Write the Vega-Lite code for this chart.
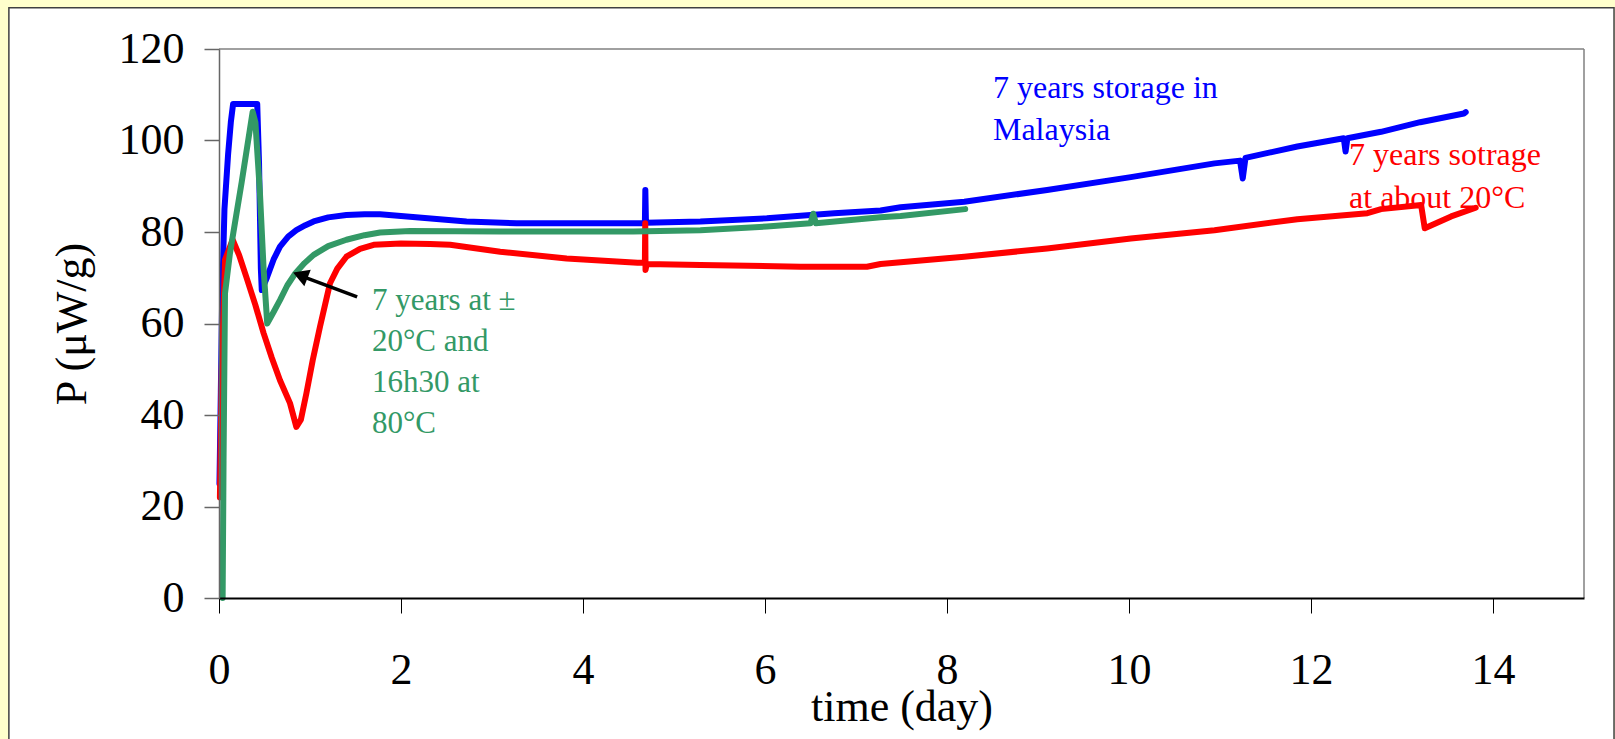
{
  "$schema": "https://vega.github.io/schema/vega-lite/v6.json",
  "width": 1365,
  "height": 549,
  "autosize": {"type": "none"},
  "padding": {"left": 219, "top": 49, "right": 31, "bottom": 141},
  "background": "#FFFFCC",
  "config": {
    "view": {"stroke": null},
    "font": "Liberation Serif",
    "axis": {"labelFont": "Liberation Serif", "titleFont": "Liberation Serif", "labelColor": "#000000", "titleColor": "#000000", "titleFontWeight": "normal", "grid": false}
  },
  "datasets": {
    "curves": [
      {"series": "Malaysia", "t": 0.005, "p": 25},
      {"series": "Malaysia", "t": 0.02, "p": 45},
      {"series": "Malaysia", "t": 0.035, "p": 66},
      {"series": "Malaysia", "t": 0.06, "p": 85},
      {"series": "Malaysia", "t": 0.1, "p": 97},
      {"series": "Malaysia", "t": 0.13, "p": 104},
      {"series": "Malaysia", "t": 0.155, "p": 108},
      {"series": "Malaysia", "t": 0.42, "p": 108},
      {"series": "Malaysia", "t": 0.44, "p": 95},
      {"series": "Malaysia", "t": 0.46, "p": 72},
      {"series": "Malaysia", "t": 0.47, "p": 67.3},
      {"series": "Malaysia", "t": 0.53, "p": 70.2},
      {"series": "Malaysia", "t": 0.6, "p": 74},
      {"series": "Malaysia", "t": 0.67, "p": 76.8},
      {"series": "Malaysia", "t": 0.76, "p": 79},
      {"series": "Malaysia", "t": 0.85, "p": 80.4},
      {"series": "Malaysia", "t": 0.95, "p": 81.5},
      {"series": "Malaysia", "t": 1.04, "p": 82.3},
      {"series": "Malaysia", "t": 1.2, "p": 83.2},
      {"series": "Malaysia", "t": 1.4, "p": 83.7},
      {"series": "Malaysia", "t": 1.6, "p": 83.9},
      {"series": "Malaysia", "t": 1.77, "p": 83.9},
      {"series": "Malaysia", "t": 2.0, "p": 83.5},
      {"series": "Malaysia", "t": 2.72, "p": 82.3},
      {"series": "Malaysia", "t": 3.27, "p": 81.9},
      {"series": "Malaysia", "t": 4.56, "p": 81.9},
      {"series": "Malaysia", "t": 4.68, "p": 81.9},
      {"series": "Malaysia", "t": 4.685, "p": 89.2},
      {"series": "Malaysia", "t": 4.692, "p": 82.0},
      {"series": "Malaysia", "t": 5.29, "p": 82.3},
      {"series": "Malaysia", "t": 6.02, "p": 83.0},
      {"series": "Malaysia", "t": 6.76, "p": 84.1},
      {"series": "Malaysia", "t": 7.27, "p": 84.7},
      {"series": "Malaysia", "t": 7.49, "p": 85.4},
      {"series": "Malaysia", "t": 8.19, "p": 86.6},
      {"series": "Malaysia", "t": 9.1, "p": 89.2},
      {"series": "Malaysia", "t": 10.02, "p": 92.0},
      {"series": "Malaysia", "t": 10.94, "p": 95.0},
      {"series": "Malaysia", "t": 11.22, "p": 95.6},
      {"series": "Malaysia", "t": 11.25, "p": 91.7},
      {"series": "Malaysia", "t": 11.28, "p": 96.2},
      {"series": "Malaysia", "t": 11.85, "p": 98.7},
      {"series": "Malaysia", "t": 12.36, "p": 100.5},
      {"series": "Malaysia", "t": 12.38, "p": 97.6},
      {"series": "Malaysia", "t": 12.4, "p": 100.5},
      {"series": "Malaysia", "t": 12.77, "p": 101.9},
      {"series": "Malaysia", "t": 13.2, "p": 104.0},
      {"series": "Malaysia", "t": 13.68, "p": 105.9},
      {"series": "Malaysia", "t": 13.7, "p": 106.2},
      {"series": "20C", "t": 0.01, "p": 22},
      {"series": "20C", "t": 0.03, "p": 49.8},
      {"series": "20C", "t": 0.066, "p": 73.9},
      {"series": "20C", "t": 0.15, "p": 78.3},
      {"series": "20C", "t": 0.22, "p": 75},
      {"series": "20C", "t": 0.3, "p": 70.2},
      {"series": "20C", "t": 0.4, "p": 64},
      {"series": "20C", "t": 0.49, "p": 57.9},
      {"series": "20C", "t": 0.58, "p": 52.5},
      {"series": "20C", "t": 0.67, "p": 47.6},
      {"series": "20C", "t": 0.78, "p": 42.6},
      {"series": "20C", "t": 0.85, "p": 37.4},
      {"series": "20C", "t": 0.9, "p": 39},
      {"series": "20C", "t": 0.96, "p": 44.7},
      {"series": "20C", "t": 1.03, "p": 52},
      {"series": "20C", "t": 1.11, "p": 59.3},
      {"series": "20C", "t": 1.22, "p": 68.8},
      {"series": "20C", "t": 1.3, "p": 72},
      {"series": "20C", "t": 1.4, "p": 74.6},
      {"series": "20C", "t": 1.55, "p": 76.3},
      {"series": "20C", "t": 1.7, "p": 77.2},
      {"series": "20C", "t": 2.0, "p": 77.5},
      {"series": "20C", "t": 2.32, "p": 77.4},
      {"series": "20C", "t": 2.54, "p": 77.2},
      {"series": "20C", "t": 3.09, "p": 75.7},
      {"series": "20C", "t": 3.82, "p": 74.2},
      {"series": "20C", "t": 4.6, "p": 73.3},
      {"series": "20C", "t": 4.68, "p": 73.3},
      {"series": "20C", "t": 4.684, "p": 81.9},
      {"series": "20C", "t": 4.687, "p": 71.7},
      {"series": "20C", "t": 4.7, "p": 73.0},
      {"series": "20C", "t": 5.29, "p": 72.8},
      {"series": "20C", "t": 6.39, "p": 72.4},
      {"series": "20C", "t": 7.12, "p": 72.4},
      {"series": "20C", "t": 7.27, "p": 73.0},
      {"series": "20C", "t": 8.19, "p": 74.6},
      {"series": "20C", "t": 9.1, "p": 76.4},
      {"series": "20C", "t": 10.02, "p": 78.6},
      {"series": "20C", "t": 10.94, "p": 80.4},
      {"series": "20C", "t": 11.85, "p": 82.8},
      {"series": "20C", "t": 12.62, "p": 84.1},
      {"series": "20C", "t": 12.77, "p": 85.0},
      {"series": "20C", "t": 13.21, "p": 85.9},
      {"series": "20C", "t": 13.25, "p": 80.8},
      {"series": "20C", "t": 13.54, "p": 83.4},
      {"series": "20C", "t": 13.81, "p": 85.3},
      {"series": "80C", "t": 0.04, "p": 0},
      {"series": "80C", "t": 0.05, "p": 30},
      {"series": "80C", "t": 0.066, "p": 66.6},
      {"series": "80C", "t": 0.12, "p": 75.3},
      {"series": "80C", "t": 0.25, "p": 91},
      {"series": "80C", "t": 0.37, "p": 106.3},
      {"series": "80C", "t": 0.4, "p": 104},
      {"series": "80C", "t": 0.45, "p": 88.5},
      {"series": "80C", "t": 0.49, "p": 72},
      {"series": "80C", "t": 0.53, "p": 60.0},
      {"series": "80C", "t": 0.6, "p": 62.5},
      {"series": "80C", "t": 0.67, "p": 65.1},
      {"series": "80C", "t": 0.75, "p": 68.3},
      {"series": "80C", "t": 0.84, "p": 71.0},
      {"series": "80C", "t": 0.94, "p": 73.2},
      {"series": "80C", "t": 1.04, "p": 75.0},
      {"series": "80C", "t": 1.2, "p": 76.9},
      {"series": "80C", "t": 1.4, "p": 78.3},
      {"series": "80C", "t": 1.6, "p": 79.3},
      {"series": "80C", "t": 1.77, "p": 79.9},
      {"series": "80C", "t": 2.1, "p": 80.2},
      {"series": "80C", "t": 3.09, "p": 80.1},
      {"series": "80C", "t": 4.55, "p": 80.1},
      {"series": "80C", "t": 5.29, "p": 80.4},
      {"series": "80C", "t": 6.02, "p": 81.2},
      {"series": "80C", "t": 6.5, "p": 81.9},
      {"series": "80C", "t": 6.53, "p": 84.0},
      {"series": "80C", "t": 6.56, "p": 81.9},
      {"series": "80C", "t": 7.27, "p": 83.2},
      {"series": "80C", "t": 7.49, "p": 83.5},
      {"series": "80C", "t": 8.2, "p": 85.0}
    ]
  },
  "data": {"name": "curves"},
  "layer": [
    {
      "data": {"values": [{"frame": "outer"}]},
      "mark": {"type": "rect", "fill": "#FFFFFF", "stroke": "#404040", "strokeWidth": 1.5, "clip": false},
      "encoding": {
        "x": {"datum": -2.309, "type": "quantitative", "scale": {"domain": [0, 15], "nice": false, "zero": false}, "axis": {"zindex": 1, "values": [0, 2, 4, 6, 8, 10, 12, 14], "format": "d", "title": "time (day)", "labelFontSize": 44, "titleFontSize": 44, "tickSize": 15, "labelPadding": 35, "titlePadding": -7, "domainColor": "#000000", "domainWidth": 2, "tickColor": "#000000", "tickWidth": 1, "labelFlush": false}},
        "x2": {"datum": 15.33},
        "y": {"datum": 129.0, "type": "quantitative", "scale": {"domain": [0, 120], "nice": false, "zero": false}, "axis": {"zindex": 1, "values": [0, 20, 40, 60, 80, 100, 120], "format": "d", "title": "P (μW/g)", "labelFontSize": 44, "titleFontSize": 44, "tickSize": 15, "labelPadding": 20, "titlePadding": 24, "domainColor": "#666666", "domainWidth": 1.5, "tickColor": "#666666", "tickWidth": 1.5}},
        "y2": {"datum": -32}
      }
    },
    {
      "data": {"values": [{"border": "top"}]},
      "mark": {"type": "rule", "color": "#808080", "strokeWidth": 1.5},
      "encoding": {"x": {"datum": 0, "type": "quantitative", "scale": {"domain": [0, 15], "nice": false, "zero": false}}, "x2": {"datum": 15}, "y": {"datum": 120, "type": "quantitative", "scale": {"domain": [0, 120], "nice": false, "zero": false}}}
    },
    {
      "data": {"values": [{"border": "right"}]},
      "mark": {"type": "rule", "color": "#808080", "strokeWidth": 1.5},
      "encoding": {"x": {"datum": 15, "type": "quantitative", "scale": {"domain": [0, 15], "nice": false, "zero": false}}, "y": {"datum": 0, "type": "quantitative", "scale": {"domain": [0, 120], "nice": false, "zero": false}}, "y2": {"datum": 120}}
    },
    {
      "transform": [{"filter": "datum.series === 'Malaysia'"}],
      "mark": {"type": "line", "color": "#0000FF", "strokeWidth": 6, "strokeJoin": "round", "strokeCap": "round"},
      "encoding": {"x": {"field": "t", "type": "quantitative", "scale": {"domain": [0, 15], "nice": false, "zero": false}}, "y": {"field": "p", "type": "quantitative", "scale": {"domain": [0, 120], "nice": false, "zero": false}}}
    },
    {
      "transform": [{"filter": "datum.series === '20C'"}],
      "mark": {"type": "line", "color": "#FF0000", "strokeWidth": 6, "strokeJoin": "round", "strokeCap": "round"},
      "encoding": {"x": {"field": "t", "type": "quantitative", "scale": {"domain": [0, 15], "nice": false, "zero": false}}, "y": {"field": "p", "type": "quantitative", "scale": {"domain": [0, 120], "nice": false, "zero": false}}}
    },
    {
      "transform": [{"filter": "datum.series === '80C'"}],
      "mark": {"type": "line", "color": "#339966", "strokeWidth": 6, "strokeJoin": "round", "strokeCap": "round"},
      "encoding": {"x": {"field": "t", "type": "quantitative", "scale": {"domain": [0, 15], "nice": false, "zero": false}}, "y": {"field": "p", "type": "quantitative", "scale": {"domain": [0, 120], "nice": false, "zero": false}}}
    },
    {
      "data": {"values": [{"label": "blue"}]},
      "mark": {"type": "text", "text": ["7 years storage in", "Malaysia"], "color": "#0000FF", "font": "Liberation Serif", "fontSize": 32, "lineHeight": 42, "align": "left", "baseline": "alphabetic"},
      "encoding": {"x": {"datum": 8.505, "type": "quantitative"}, "y": {"datum": 109.3, "type": "quantitative"}}
    },
    {
      "data": {"values": [{"label": "red"}]},
      "mark": {"type": "text", "text": ["7 years sotrage", "at about 20°C"], "color": "#FF0000", "font": "Liberation Serif", "fontSize": 32, "lineHeight": 43, "align": "left", "baseline": "alphabetic"},
      "encoding": {"x": {"datum": 12.418, "type": "quantitative"}, "y": {"datum": 94.6, "type": "quantitative"}}
    },
    {
      "data": {"values": [{"label": "green"}]},
      "mark": {"type": "text", "text": ["7 years at ±", "20°C and", "16h30 at", "80°C"], "color": "#339966", "font": "Liberation Serif", "fontSize": 31, "lineHeight": 41, "align": "left", "baseline": "alphabetic"},
      "encoding": {"x": {"datum": 1.681, "type": "quantitative"}, "y": {"datum": 62.9, "type": "quantitative"}}
    },
    {
      "data": {"values": [{"label": "arrow"}]},
      "mark": {"type": "rule", "color": "#000000", "strokeWidth": 3.5},
      "encoding": {"x": {"datum": 1.518, "type": "quantitative"}, "y": {"datum": 65.8, "type": "quantitative"}, "x2": {"datum": 0.93}, "y2": {"datum": 70.2}}
    },
    {
      "data": {"values": [{"label": "arrowhead"}]},
      "mark": {"type": "point", "shape": "triangle", "filled": true, "color": "#000000", "size": 320, "angle": 291, "opacity": 1},
      "encoding": {"x": {"datum": 0.92, "type": "quantitative"}, "y": {"datum": 70.35, "type": "quantitative"}}
    }
  ]
}
